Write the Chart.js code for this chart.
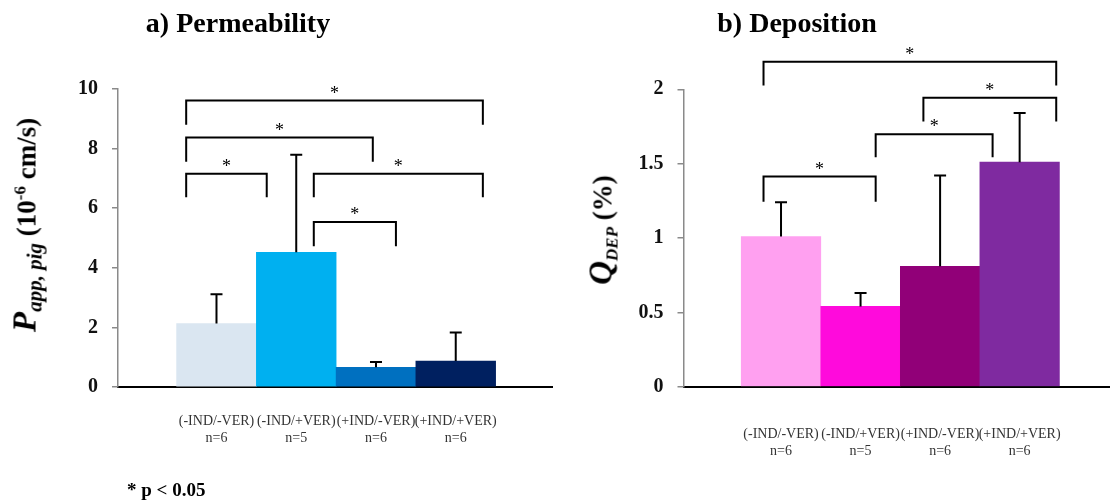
<!DOCTYPE html>
<html>
<head>
<meta charset="utf-8">
<script src="https://cdn.jsdelivr.net/npm/chart.js@4.4.1/dist/chart.umd.min.js"></script>
<style>
  body { margin:0; width:1110px; height:504px; background:#fff; position:relative; overflow:hidden; font-family:"Liberation Serif", serif; color:#000; }
  .box { position:absolute; top:0; width:555px; height:504px; }
  .title { position:absolute; font-weight:bold; font-size:28px; line-height:1.15; white-space:nowrap; transform:translateX(-50%); }
  .ylab { position:absolute; white-space:nowrap; font-weight:bold; font-size:27px; line-height:1; transform:translate(-50%,-50%) rotate(-90deg); }
  .ylab sub, .ylab sup { line-height:0; }
  .foot { position:absolute; left:127px; top:479px; font-size:19px; font-weight:bold; white-space:nowrap; line-height:1.15; }
</style>
</head>
<body>
<div class="box" style="left:0"><canvas id="c1" width="555" height="504"></canvas></div>
<div class="box" style="left:555px"><canvas id="c2" width="555" height="504"></canvas></div>

<div class="title" style="left:238px;top:7px">a) Permeability</div>
<div class="title" style="left:797px;top:7px">b) Deposition</div>

<div class="ylab" style="left:25px;top:225px"><span style="font-style:italic;font-size:33px">P</span><sub style="font-style:italic;font-size:21px">app, pig</sub> (10<sup style="font-size:17px">-6</sup> cm/s)</div>
<div class="ylab" style="left:601px;top:230px"><span style="font-style:italic;font-size:33px">Q</span><sub style="font-style:italic;font-size:17px">DEP</sub> (%)</div>

<div class="foot">* p &lt; 0.05</div>

<script>
// ---------- data ----------
const categories = ['(-IND/-VER)', '(-IND/+VER)', '(+IND/-VER)', '(+IND/+VER)'];
const sampleSizes = ['n=6', 'n=5', 'n=6', 'n=6'];

const permMean = [2.13, 4.52, 0.66, 0.87];
const permSD   = [0.98, 3.27, 0.18, 0.96];
const permTicks = [0, 2, 4, 6, 8, 10];

const depMean = [1.01, 0.54, 0.81, 1.51];
const depSD   = [0.23, 0.09, 0.61, 0.33];
const depTicks = [0, 0.5, 1, 1.5, 2];

// significance brackets (x in category units 1..4, y in value units)
const permBracketFrom   = [0.62, 0.62, 0.62, 2.22, 2.22];
const permBracketTo     = [4.34, 2.96, 1.63, 4.34, 3.25];
const permBracketTop    = [9.61, 8.37, 7.16, 7.16, 5.54];
const permBracketBottom = [8.80, 7.56, 6.37, 6.37, 4.72];

const depBracketFrom   = [0.78, 2.79, 2.19, 0.78];
const depBracketTo     = [4.46, 4.46, 3.66, 2.19];
const depBracketTop    = [2.186, 1.944, 1.697, 1.413];
const depBracketBottom = [2.025, 1.783, 1.543, 1.244];

const permColors = ['#DAE6F1', '#00B0F0', '#0070C0', '#002060'];
const depColors  = ['#FFA0F0', '#FF0ADC', '#910078', '#7F2AA0'];

// ---------- helpers ----------
function annotPlugin(sd, bFrom, bTo, bTop, bBottom) {
  return {
    id: 'annot',
    afterDatasetsDraw(chart) {
      const ctx = chart.ctx;
      const xs = chart.scales.x, ys = chart.scales.y;
      const meta = chart.getDatasetMeta(0);
      const data = chart.data.datasets[0].data;
      ctx.save();
      ctx.strokeStyle = '#000';
      ctx.lineWidth = 2;
      ctx.lineCap = 'butt';
      meta.data.forEach((bar, i) => {
        const top = ys.getPixelForValue(data[i].y + sd[i]);
        ctx.beginPath();
        ctx.moveTo(bar.x, bar.y);
        ctx.lineTo(bar.x, top);
        ctx.moveTo(bar.x - 6, top);
        ctx.lineTo(bar.x + 6, top);
        ctx.stroke();
      });
      ctx.fillStyle = '#000';
      ctx.font = '18px "Liberation Serif"';
      ctx.textAlign = 'center';
      ctx.textBaseline = 'alphabetic';
      bFrom.forEach((f, i) => {
        const x1 = xs.getPixelForValue(f), x2 = xs.getPixelForValue(bTo[i]);
        const yt = ys.getPixelForValue(bTop[i]), yb = ys.getPixelForValue(bBottom[i]);
        ctx.beginPath();
        ctx.moveTo(x1, yb);
        ctx.lineTo(x1, yt);
        ctx.lineTo(x2, yt);
        ctx.lineTo(x2, yb);
        ctx.stroke();
        ctx.fillText('*', (x1 + x2) / 2, yt - 2);
      });
      ctx.restore();
    }
  };
}

function makeChart(id, means, sd, colors, yMax, yStep, yTicks, xMin, xMax, yAxisWidth, xAxisHeight, padTop, padRight, xLabelPad, brackets) {
  return new Chart(document.getElementById(id), {
    type: 'bar',
    data: {
      datasets: [{
        data: means.map((v, i) => ({ x: i + 1, y: v })),
        backgroundColor: colors,
        borderWidth: 0,
        barPercentage: 1,
        categoryPercentage: 1
      }]
    },
    options: {
      responsive: false,
      animation: false,
      layout: { padding: { left: 0, right: padRight, top: padTop, bottom: 0 } },
      plugins: { legend: { display: false }, tooltip: { enabled: false }, title: { display: false } },
      scales: {
        x: {
          type: 'linear',
          min: xMin, max: xMax,
          offset: false,
          afterBuildTicks: s => { s.ticks = categories.map((c, i) => ({ value: i + 1 })); },
          afterFit: s => { s.height = xAxisHeight; },
          ticks: {
            autoSkip: false, maxRotation: 0, minRotation: 0,
            padding: xLabelPad,
            color: '#333',
            font: { family: 'Liberation Serif', size: 14 },
            callback: v => [categories[v - 1], sampleSizes[v - 1]]
          },
          grid: { display: false, drawTicks: false },
          border: { display: true, color: '#000', width: 2 }
        },
        y: {
          min: 0, max: yMax,
          afterBuildTicks: s => { s.ticks = yTicks.map(v => ({ value: v })); },
          afterFit: s => { s.width = yAxisWidth; },
          ticks: {
            stepSize: yStep,
            padding: 14,
            color: '#111',
            font: { family: 'Liberation Serif', size: 20, weight: 'bold' },
            callback: v => String(v)
          },
          grid: { drawOnChartArea: false, drawTicks: true, tickLength: 6, color: '#8a8a8a', lineWidth: 1.5 },
          border: { display: true, color: '#8a8a8a', width: 1.5 }
        }
      }
    },
    plugins: [annotPlugin(sd, ...brackets)]
  });
}

makeChart('c1', permMean, permSD, permColors, 10, 2, permTicks, -0.235, 5.207, 118, 117, 89, 3, 26,
  [permBracketFrom, permBracketTo, permBracketTop, permBracketBottom]);
makeChart('c2', depMean, depSD, depColors, 2, 0.5, depTicks, -0.226, 5.136, 128.5, 117.3, 89.3, 0, 39,
  [depBracketFrom, depBracketTo, depBracketTop, depBracketBottom]);
</script>
</body>
</html>
